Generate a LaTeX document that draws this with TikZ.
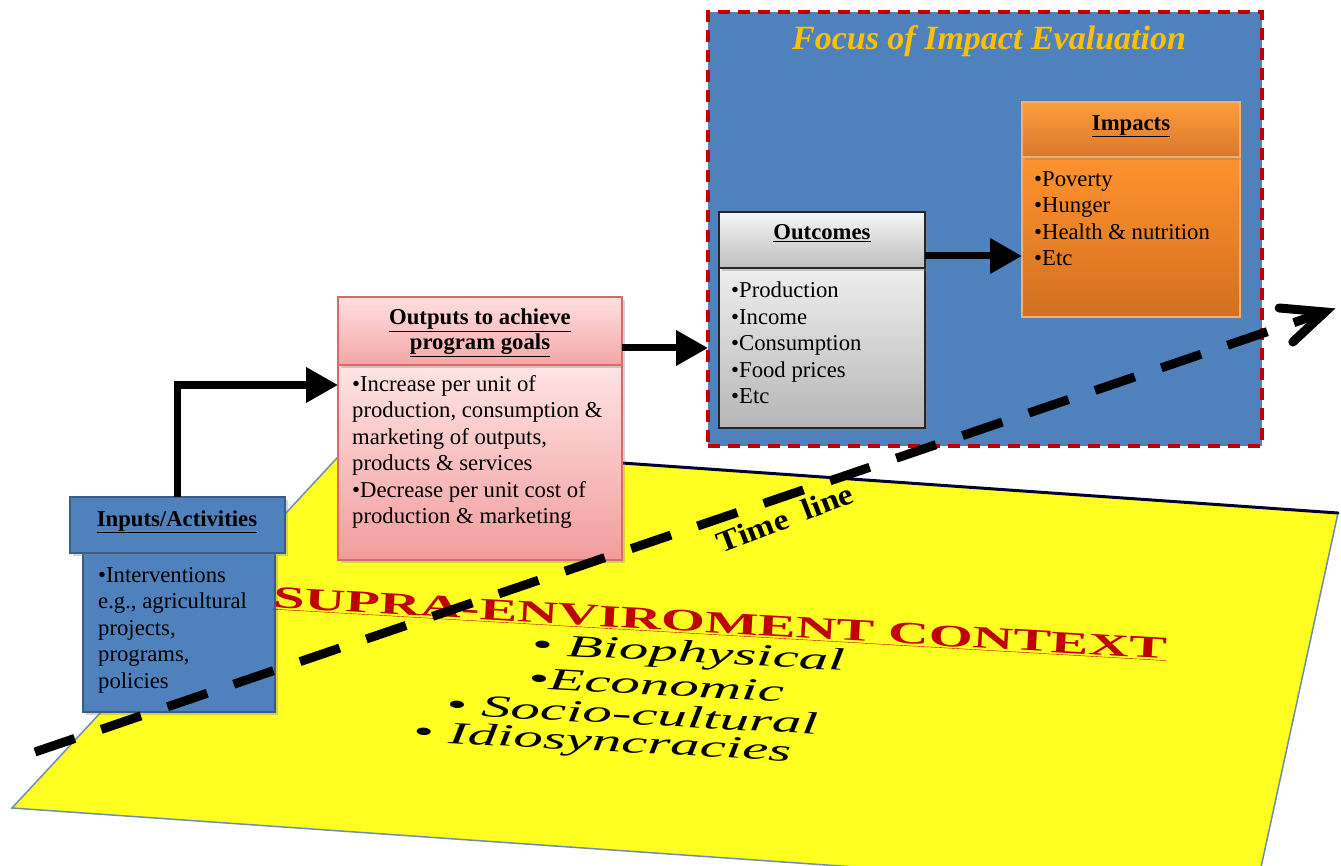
\documentclass[tikz,border=0pt]{standalone}
\usepackage{fontspec}
\setmainfont{Liberation Serif}
\usetikzlibrary{arrows.meta,shadows,calc}
\definecolor{ieblue}{RGB}{79,129,189}
\definecolor{iebluedk}{RGB}{56,93,138}
\definecolor{iegold}{RGB}{255,192,0}
\definecolor{iered}{RGB}{192,0,0}
\definecolor{ieyellow}{RGB}{255,255,33}
\definecolor{planeedge}{RGB}{110,140,180}
\definecolor{pinkA}{RGB}{255,224,224}
\definecolor{pinkB}{RGB}{244,166,166}
\definecolor{pinkC}{RGB}{255,228,228}
\definecolor{pinkD}{RGB}{242,156,156}
\definecolor{pinkE}{RGB}{218,106,106}
\definecolor{grayA}{RGB}{246,246,246}
\definecolor{grayB}{RGB}{190,190,190}
\definecolor{grayC}{RGB}{238,238,238}
\definecolor{grayD}{RGB}{182,182,182}
\definecolor{orA}{RGB}{255,156,60}
\definecolor{orB}{RGB}{217,120,44}
\definecolor{orC}{RGB}{255,146,46}
\definecolor{orD}{RGB}{210,112,32}
\definecolor{orE}{RGB}{240,175,115}
\newcommand\boxfont{\fontsize{22.7}{26.5}\selectfont}
\begin{document}
\begin{tikzpicture}[x=1pt,y=-1pt,
  boxbase/.style={anchor=north west, inner sep=0pt, outer sep=0pt, line width=1.3pt,
    drop shadow={opacity=0.35, shadow xshift=3pt, shadow yshift=-3pt}},
  inbox/.style={boxbase, draw=iebluedk, fill=ieblue},
  pinkhd/.style={boxbase, draw=pinkE, top color=pinkA, bottom color=pinkB},
  pinkbd/.style={boxbase, draw=pinkE, top color=pinkC, bottom color=pinkD},
  grayhd/.style={boxbase, draw=black!85, top color=grayA, bottom color=grayB},
  graybd/.style={boxbase, draw=black!85, top color=grayC, bottom color=grayD},
  orhd/.style={boxbase, draw=orE, top color=orA, bottom color=orB},
  orbd/.style={boxbase, draw=orE, top color=orC, bottom color=orD},
  titletext/.style={font=\boxfont\bfseries, align=center, inner sep=0pt},
  bodytext/.style={font=\boxfont, align=left, anchor=north west, inner sep=0pt},
  conn/.style={line width=7pt, -{Triangle[length=32pt,width=34pt]}},
  ctxtext/.style={font=\fontsize{31}{33}\selectfont\itshape, rotate=-3, xscale=1.9, inner sep=0pt},
]
\useasboundingbox (0,0) rectangle (1341,866);
% ---- yellow plane ----
\begin{scope}
\clip (0,0) rectangle (1341,866);
\fill[ieyellow] (350,444) -- (1338,513) -- (1255,895) -- (12,808) -- cycle;
\draw[planeedge, line width=1.5pt] (1338,513) -- (1255,895);
\draw[planeedge, line width=1.5pt] (350,444) -- (12,808) -- (1255,895);
\draw[black!80!blue, line width=3pt, line cap=round] (350,444) -- (1338,513);
\end{scope}
% ---- focus box ----
\node[anchor=north west, inner sep=0pt, outer sep=0pt, fill=ieblue, draw=iered,
      line width=3.5pt, dash pattern=on 12pt off 8pt,
      minimum width=554pt, minimum height=434pt] (focus) at (708,12) {};
\node[font=\fontsize{34}{40}\selectfont\bfseries\itshape, text=iegold, inner sep=0pt] (focustitle) at (989,41) {Focus of Impact Evaluation};
% ---- Inputs ----
\node[inbox, minimum width=192pt, minimum height=159pt] (inbody) at (83,553) {};
\node[inbox, minimum width=215pt, minimum height=56pt] (inhead) at (70,497) {};
\node[titletext] (intitle) at (177,522) {\underline{Inputs/Activities}};
\node[bodytext] (intext) at (98,567) {\textbullet Interventions\\e.g., agricultural\\projects,\\programs,\\policies};
% ---- Outputs ----
\node[pinkbd, minimum width=284pt, minimum height=195pt] (outbody) at (338,365) {};
\node[pinkhd, minimum width=284pt, minimum height=68pt] (outhead) at (338,297) {};
\node[titletext, font=\fontsize{22.7}{25}\selectfont\bfseries] (outtitle) at (480,333) {\underline{Outputs to achieve}\\\underline{program goals}};
\node[bodytext] (outtext) at (352,375) {\textbullet Increase per unit of\\production, consumption \&\\marketing of outputs,\\products \& services\\\textbullet Decrease per unit cost of\\production \& marketing};
% ---- Outcomes ----
\node[graybd, minimum width=206pt, minimum height=160pt] (ocbody) at (719,268) {};
\node[grayhd, minimum width=206pt, minimum height=56pt] (ochead) at (719,212) {};
\node[titletext] (octitle) at (822,233) {\underline{Outcomes}};
\node[bodytext] (octext) at (731,282) {\textbullet Production\\\textbullet Income\\\textbullet Consumption\\\textbullet Food prices\\\textbullet Etc};
% ---- Impacts ----
\node[orbd, minimum width=218pt, minimum height=160pt] (imbody) at (1022,157) {};
\node[orhd, minimum width=218pt, minimum height=55pt] (imhead) at (1022,102) {};
\node[titletext] (imtitle) at (1131,126) {\underline{Impacts}};
\node[bodytext] (imtext) at (1034,171) {\textbullet Poverty\\\textbullet Hunger\\\textbullet Health \& nutrition\\\textbullet Etc};
% ---- connectors ----
\draw[conn] (inhead.north) |- ([yshift=-20pt]outbody.north west);
\draw[conn] ([yshift=-17pt]outhead.east) -- ([yshift=-17pt]outhead.east -| focus.west);
\draw[conn] ([yshift=-16pt]ochead.east) -- ([yshift=-16pt]ochead.east -| imbody.west);
% ---- context text ----
\node[font=\fontsize{31}{33}\selectfont\bfseries, text=iered, rotate=-3.3, xscale=1.82, inner sep=0pt] (supra) at (720,624) {\underline{SUPRA-ENVIROMENT CONTEXT}};
\node[ctxtext] (bio) at (688,655) {\textbullet\ Biophysical};
\node[ctxtext] (eco) at (656,685) {\textbullet Economic};
\node[ctxtext] (soc) at (632,714) {\textbullet\ Socio-cultural};
\node[ctxtext] (idio) at (602,744) {\textbullet\ Idiosyncracies};
% ---- time line ----
\coordinate (tl0) at (35,752);
\coordinate (tl1) at (1325,312);
\draw[line width=9pt, dash pattern=on 42pt off 28pt, shorten >=8pt] (tl0) -- (tl1);
\draw[line width=9pt, line cap=round, line join=miter] ($(tl1)+(175:46pt)$) -- (tl1) -- ($(tl1)+(223:44pt)$);
\node[font=\fontsize{30}{32}\selectfont\bfseries, rotate=21, xscale=1.12, inner sep=0pt] (tltext) at (785,518) {Time\ \ line};
\end{tikzpicture}
\end{document}
